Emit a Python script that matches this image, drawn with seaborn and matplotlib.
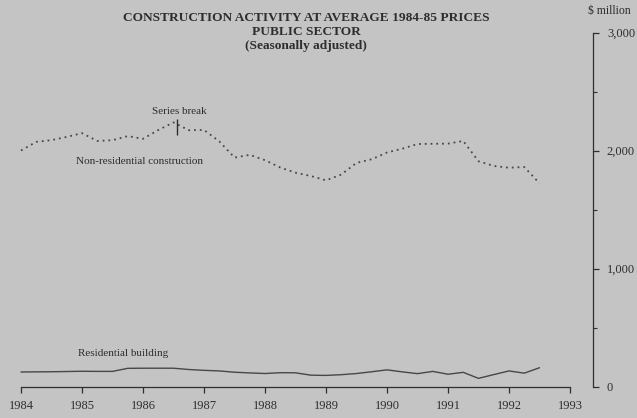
import matplotlib
matplotlib.use("Agg")
import matplotlib.pyplot as plt
import seaborn as sns
import pandas as pd
import numpy as np

# ---- data (quarterly, $ million, average 1984-85 prices) ----
quarters = ["1984Q1", "1984Q2", "1984Q3", "1984Q4",
            "1985Q1", "1985Q2", "1985Q3", "1985Q4",
            "1986Q1", "1986Q2", "1986Q3", "1986Q4",
            "1987Q1", "1987Q2", "1987Q3", "1987Q4",
            "1988Q1", "1988Q2", "1988Q3", "1988Q4",
            "1989Q1", "1989Q2", "1989Q3", "1989Q4",
            "1990Q1", "1990Q2", "1990Q3", "1990Q4",
            "1991Q1", "1991Q2", "1991Q3", "1991Q4",
            "1992Q1", "1992Q2", "1992Q3"]
non_residential = [2000, 2073, 2088, 2115, 2147, 2081, 2087, 2122, 2099, 2173,
                   2238, 2172, 2174, 2078, 1940, 1963, 1918, 1856, 1812, 1784,
                   1747, 1796, 1895, 1926, 1983, 2015, 2055, 2057, 2058, 2081,
                   1909, 1869, 1854, 1860, 1722]
residential = [123, 124, 125, 127, 129, 128, 128, 154, 155, 155,
               155, 144, 137, 132, 121, 115, 110, 117, 116, 96,
               94, 100, 110, 125, 141, 124, 109, 128, 104, 120,
               69, 101, 132, 113, 159]
x_ticks = [1984, 1985, 1986, 1987, 1988, 1989, 1990, 1991, 1992, 1993]
y_ticks = [0, 1000, 2000, 3000]
y_ticklabels = ["0", "1,000", "2,000", "3,000"]
series_break_x = 1986.55
series_break_y = (2135, 2263)

title_lines = ["CONSTRUCTION ACTIVITY AT AVERAGE 1984-85 PRICES",
               "PUBLIC SECTOR",
               "(Seasonally adjusted)"]

# ---- styling ----
BG = "#c4c4c4"
INK = "#2e2e2e"
LINE = "#474747"

sns.set_style("white")
plt.rcParams["font.family"] = ["Liberation Serif", "DejaVu Serif"]
plt.rcParams["text.color"] = INK

W, H = 637, 418
fig = plt.figure(figsize=(W / 100, H / 100), dpi=100, facecolor=BG)

L_px, R_px = 10, 593
TOP_px, BOT_px = 32.5, 386.5
ax = fig.add_axes([L_px / W, (H - BOT_px) / H, (R_px - L_px) / W, (BOT_px - TOP_px) / H])
ax.set_facecolor(BG)

def q_to_year(q):
    return int(q[:4]) + (int(q[-1]) - 1) / 4.0

df = pd.DataFrame({
    "date": [q_to_year(q) for q in quarters] * 2,
    "value": non_residential + residential,
    "series": ["Non-residential construction"] * len(quarters) + ["Residential building"] * len(quarters),
})

sns.lineplot(data=df[df.series == "Non-residential construction"], x="date", y="value",
             ax=ax, color=LINE, linewidth=1.3, linestyle=(0, (1, 2.2)), legend=False)
sns.lineplot(data=df[df.series == "Residential building"], x="date", y="value",
             ax=ax, color=LINE, linewidth=1.0, legend=False)

# series break mark
ax.vlines(series_break_x, series_break_y[0], series_break_y[1], color=INK, linewidth=1.0)

px_per_year = 61.0
ax.set_xlim(1984 - (21 - L_px) / px_per_year, 1984 + (R_px - 21) / px_per_year)
ax.set_ylim(0, 3000)

for s in ["left", "top"]:
    ax.spines[s].set_visible(False)
ax.spines["bottom"].set_bounds(1984, 1993)
ax.spines["right"].set_bounds(0, 3000)
for s in ["bottom", "right"]:
    ax.spines[s].set_color(INK)
    ax.spines[s].set_linewidth(0.9)

ax.set_xticks(x_ticks)
ax.set_xticklabels([str(t) for t in x_ticks])
ax.yaxis.tick_right()
ax.set_yticks(y_ticks)
ax.set_yticklabels(y_ticklabels)
ax.set_yticks([500, 1500, 2500], minor=True)
ax.tick_params(axis="x", direction="out", length=4.5, width=0.9, color=INK,
               labelsize=9, pad=5, labelcolor=INK, bottom=True)
ax.tick_params(axis="y", which="major", direction="out", length=4, width=0.9, color=INK,
               labelsize=9, pad=6, labelcolor=INK, right=True, left=False)
ax.tick_params(axis="y", which="minor", direction="out", length=3, width=0.8, color=INK,
               right=True, left=False)
ax.set_xlabel("")
ax.set_ylabel("")

def fx(px):
    return px / W

def fy(py):
    return 1 - py / H

# title
for line, ypx in zip(title_lines, [18, 32, 46]):
    fig.text(fx(306), fy(ypx), line, ha="center", va="center",
             fontsize=9.6, fontweight="bold", color=INK)

fig.text(fx(588), fy(11), "$ million", ha="left", va="center", fontsize=8.5, color=INK)

fig.text(fx(179), fy(111), "Series break", ha="center", va="center", fontsize=8, color=INK)
fig.text(fx(139), fy(162), "Non-residential construction", ha="center", va="center",
         fontsize=8, color=INK)
fig.text(fx(123), fy(354), "Residential building", ha="center", va="center",
         fontsize=8, color=INK)

fig.savefig("out.png", dpi=100, facecolor=BG)
